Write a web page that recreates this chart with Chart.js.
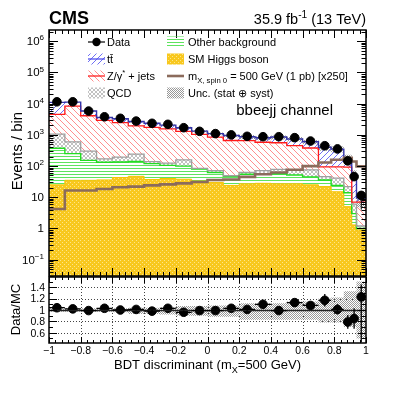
<!DOCTYPE html>
<html>
<head>
<meta charset="utf-8">
<script src="https://cdn.jsdelivr.net/npm/chart.js"></script>
<style>
html, body { margin: 0; padding: 0; background: #fff; }
#wrap { position: relative; width: 407px; height: 395px; overflow: hidden; }
canvas { position: absolute; left: 0; top: 0; }
</style>
</head>
<body>
<div id="wrap">
<canvas id="mainPad" width="407" height="395"></canvas>
<canvas id="ratioPad" width="407" height="395"></canvas>
</div>
<script>
const FONT = '"Liberation Sans", Arial, sans-serif';
Chart.defaults.font.family = FONT;

// BDT bins (variable width at the high end)
const binEdges = [-1, -0.9, -0.8, -0.7, -0.6, -0.5, -0.4, -0.3, -0.2, -0.1, 0, 0.1, 0.2, 0.3, 0.4, 0.5, 0.6, 0.7, 0.78, 0.86, 0.91, 0.94, 1];

// yields per bin, stack order bottom -> top
const higgs    = [25, 35, 35, 36, 43, 47, 37, 40, 38, 33, 30, 24, 27, 28, 27, 27, 25, 22, 15, 5, 1.3, 0.9];
const otherBkg = [350, 215, 117, 96, 92, 93, 83, 65, 62, 47, 32, 23, 28, 27, 30, 25, 20, 14, 9, 9, 1.7, 0.1];
const qcd      = [675, 350, 148, 38, 60, 100, 20, 20, 58, 5, 10, 2, 8, 17, 21, 22, 31, 10, 17, 8, 3, 0.2];
const zJets    = [3520, 7700, 3800, 2730, 2285, 1710, 1610, 1425, 1142, 955, 778, 611, 587, 508, 482, 376, 304, 49, 54, 70, 1, 5.8];
const ttbar    = [6430, 2900, 1700, 700, 820, 750, 600, 500, 400, 280, 250, 300, 230, 230, 300, 290, 220, 305, 255, 83, 48, 2.5];
const signal   = [4.2, 16.5, 16.5, 18.5, 21, 22, 24, 26, 28, 31, 36, 37, 45, 55, 62, 76, 100, 130, 160, 185, 140, 98];
const dataCounts = [11500, 11500, 5800, 3800, 3400, 2770, 2350, 2180, 1700, 1300, 1100, 1000, 900, 875, 875, 815, 635, 450, 355, 147, 46, 11.5];

// ratio panel
const ratio      = [1.04, 1.02, 0.99, 1.03, 1.0, 1.01, 0.98, 1.03, 0.96, 0.99, 0.99, 1.03, 1.01, 1.10, 0.99, 1.13, 1.08, 1.17, 1.01, 0.79, 0.85, 1.23];
const ratioErrHi = [0.01, 0.01, 0.015, 0.02, 0.02, 0.02, 0.025, 0.025, 0.03, 0.03, 0.035, 0.035, 0.04, 0.05, 0.04, 0.06, 0.07, 0.11, 0.09, 0.12, 0.18, 0.22];
const ratioErrLo = [0.01, 0.01, 0.015, 0.02, 0.02, 0.02, 0.025, 0.025, 0.03, 0.03, 0.035, 0.035, 0.04, 0.05, 0.04, 0.06, 0.07, 0.11, 0.09, 0.12, 0.18, 0.8];
const uncUp   = [0.03, 0.03, 0.03, 0.03, 0.03, 0.04, 0.04, 0.05, 0.07, 0.07, 0.08, 0.08, 0.12, 0.12, 0.12, 0.15, 0.15, 0.2, 0.22, 0.33, 0.33, 0.5];
const uncDown = [0.03, 0.03, 0.03, 0.03, 0.04, 0.07, 0.07, 0.08, 0.1, 0.1, 0.12, 0.12, 0.17, 0.17, 0.17, 0.17, 0.17, 0.22, 0.22, 0.3, 0.3, 0.5];

// axis labels
const xMajorTicks = [-1, -0.8, -0.6, -0.4, -0.2, 0, 0.2, 0.4, 0.6, 0.8, 1];
const xTickLabels = ['\u22121', '\u22120.8', '\u22120.6', '\u22120.4', '\u22120.2', '0', '0.2', '0.4', '0.6', '0.8', '1'];
const logDecades = [-1, 0, 1, 2, 3, 4, 5, 6];
const ratioTicks = [0.6, 0.8, 1, 1.2, 1.4];
const ratioTickLabels = ['0.6', '0.8', '1', '1.2', '1.4'];

function cumulate(...layers) {
    return layers[0].map((_, i) => layers.reduce((s, l) => s + l[i], 0));
}
const stackHiggs = higgs.slice();
const stackOther = cumulate(higgs, otherBkg);
const stackQcd   = cumulate(higgs, otherBkg, qcd);
const stackZ     = cumulate(higgs, otherBkg, qcd, zJets);
const stackTotal = cumulate(higgs, otherBkg, qcd, zJets, ttbar);

const binCenters = binEdges.slice(0, -1).map((e, i) => (e + binEdges[i + 1]) / 2);

function stepPoints(values) {
    const pts = values.map((v, i) => ({ x: binEdges[i], y: v }));
    pts.push({ x: binEdges[values.length], y: values[values.length - 1] });
    return pts;
}

// ---- fill patterns (ROOT-like hatches)
function makePattern(size, paint) {
    const c = document.createElement('canvas');
    c.width = size; c.height = size;
    const g = c.getContext('2d');
    paint(g, size);
    return g.createPattern(c, 'repeat');
}
function hatch(color, size, dirs) {
    return makePattern(size, (g, s) => {
        g.strokeStyle = color;
        g.lineWidth = 1;
        g.beginPath();
        if (dirs.includes('/')) {
            g.moveTo(0, s); g.lineTo(s, 0);
            g.moveTo(-1, 1); g.lineTo(1, -1);
            g.moveTo(s - 1, s + 1); g.lineTo(s + 1, s - 1);
        }
        if (dirs.includes('\\')) {
            g.moveTo(0, 0); g.lineTo(s, s);
            g.moveTo(-1, s - 1); g.lineTo(1, s + 1);
            g.moveTo(s - 1, -1); g.lineTo(s + 1, 1);
        }
        g.stroke();
    });
}
const ttPattern = hatch('#6f6ff5', 6, '/');
const zPattern = hatch('#ff8f8f', 6, '\\');
const qcdPattern = hatch('#c2c2c2', 4, '/\\');
const otherPattern = makePattern(3, (g) => { g.fillStyle = '#5ee35e'; g.fillRect(0, 0, 3, 1); });
const higgsPattern = makePattern(4, (g) => {
    g.fillStyle = '#f8c81e'; g.fillRect(0, 0, 4, 4);
    g.fillStyle = '#fde58a'; g.fillRect(0, 0, 1, 1); g.fillRect(2, 2, 1, 1);
});
const uncPattern = makePattern(2, (g) => {
    g.fillStyle = '#989898'; g.fillRect(0, 0, 1, 1); g.fillRect(1, 1, 1, 1);
});

// ---- rich text (sub/superscripts)
function partFont(p, size) {
    const s = size * (p.sup || p.sub ? 0.7 : 1);
    return (p.bold ? 'bold ' : '') + s + 'px ' + FONT;
}
function drawRich(ctx, parts, x, y, size, align) {
    let w = 0;
    parts.forEach(p => { ctx.font = partFont(p, size); w += ctx.measureText(p.text).width; });
    let cx = align === 'right' ? x - w : align === 'center' ? x - w / 2 : x;
    ctx.textAlign = 'left';
    ctx.textBaseline = 'alphabetic';
    parts.forEach(p => {
        ctx.font = partFont(p, size);
        const dy = p.sup ? -0.42 * size : p.sub ? 0.28 * size : 0;
        ctx.fillText(p.text, cx, y + dy);
        cx += ctx.measureText(p.text).width;
    });
}

function drawLegend(ctx) {
    const rows = [42, 59, 76, 93];
    const entries = [
        { bx: 88, tx: 107, row: 0, kind: 'marker', parts: [{ text: 'Data' }] },
        { bx: 88, tx: 107, row: 1, kind: 'fill', pattern: ttPattern, line: '#5050ee', parts: [{ text: 't' }, { text: 't\u0304' }] },
        { bx: 88, tx: 107, row: 2, kind: 'fill', pattern: zPattern, line: '#ff2020', parts: [{ text: 'Z/\u03b3' }, { text: '*', sup: true }, { text: ' + jets' }] },
        { bx: 88, tx: 107, row: 3, kind: 'fill', pattern: qcdPattern, parts: [{ text: 'QCD' }] },
        { bx: 167, tx: 188, row: 0, kind: 'fill', pattern: otherPattern, parts: [{ text: 'Other background' }] },
        { bx: 167, tx: 188, row: 1, kind: 'fill', pattern: higgsPattern, parts: [{ text: 'SM Higgs boson' }] },
        { bx: 167, tx: 188, row: 2, kind: 'line', line: '#8b6b5c', parts: [{ text: 'm' }, { text: 'X, spin 0', sub: true }, { text: ' = 500 GeV (1 pb) [x250]' }] },
        { bx: 167, tx: 188, row: 3, kind: 'fill', pattern: uncPattern, parts: [{ text: 'Unc. (stat \u2295 syst)' }] }
    ];
    entries.forEach(e => {
        const cy = rows[e.row];
        const w = 17;
        if (e.kind === 'marker') {
            ctx.strokeStyle = '#000'; ctx.lineWidth = 1.2;
            ctx.beginPath(); ctx.moveTo(e.bx, cy); ctx.lineTo(e.bx + w, cy); ctx.stroke();
            ctx.fillStyle = '#000';
            ctx.beginPath(); ctx.arc(e.bx + w / 2, cy, 4.2, 0, Math.PI * 2); ctx.fill();
        } else if (e.kind === 'fill') {
            ctx.fillStyle = e.pattern;
            ctx.fillRect(e.bx, cy - 5.5, w, 11);
            if (e.line) {
                ctx.strokeStyle = e.line; ctx.lineWidth = 1.3;
                ctx.beginPath(); ctx.moveTo(e.bx, cy); ctx.lineTo(e.bx + w, cy); ctx.stroke();
            }
        } else {
            ctx.strokeStyle = e.line; ctx.lineWidth = 2.6;
            ctx.beginPath(); ctx.moveTo(e.bx, cy); ctx.lineTo(e.bx + w, cy); ctx.stroke();
        }
        ctx.fillStyle = '#000';
        drawRich(ctx, e.parts, e.tx, cy + 4, 11, 'left');
    });
}

function drawXTicks(ctx, x, a, majorLen, minorLen) {
    ctx.strokeStyle = '#000'; ctx.lineWidth = 1;
    ctx.beginPath();
    for (let i = 0; i <= 50; i++) {
        const v = -1 + i * 0.04;
        const px = Math.round(x.getPixelForValue(v)) + 0.5;
        const len = i % 5 === 0 ? majorLen : minorLen;
        ctx.moveTo(px, a.bottom); ctx.lineTo(px, a.bottom - len);
        ctx.moveTo(px, a.top); ctx.lineTo(px, a.top + len);
    }
    ctx.stroke();
}

const mainDecor = {
    id: 'mainDecor',
    afterDatasetsDraw(chart) {
        const { ctx, scales: { x, y } } = chart;
        ctx.save();
        ctx.strokeStyle = '#000'; ctx.lineWidth = 1;
        ctx.beginPath();
        dataCounts.forEach((v, i) => {
            const px = x.getPixelForValue(binCenters[i]);
            ctx.moveTo(px, y.getPixelForValue(v * (1 + ratioErrHi[i] / ratio[i])));
            ctx.lineTo(px, y.getPixelForValue(v * Math.max(0.05, 1 - ratioErrLo[i] / ratio[i])));
        });
        ctx.stroke();
        ctx.restore();
    },
    afterDraw(chart) {
        const { ctx, chartArea: a, scales: { x, y } } = chart;
        ctx.save();
        drawXTicks(ctx, x, a, 8, 4);
        // log ticks, left and right
        ctx.beginPath();
        for (let n = -2; n <= 6; n++) {
            for (let k = 1; k <= 9; k++) {
                const v = k * Math.pow(10, n);
                if (v < y.min || v > y.max) continue;
                const py = Math.round(y.getPixelForValue(v)) + 0.5;
                const len = k === 1 ? 9 : 4.5;
                ctx.moveTo(a.left, py); ctx.lineTo(a.left + len, py);
                ctx.moveTo(a.right, py); ctx.lineTo(a.right - len, py);
            }
        }
        ctx.stroke();
        ctx.lineWidth = 1.5;
        ctx.strokeRect(a.left, a.top, a.right - a.left, a.bottom - a.top);

        ctx.fillStyle = '#000';
        logDecades.forEach(n => {
            const py = y.getPixelForValue(Math.pow(10, n));
            let parts;
            if (n === 0) parts = [{ text: '1' }];
            else if (n === 1) parts = [{ text: '10' }];
            else parts = [{ text: '10' }, { text: n < 0 ? '\u2212' + (-n) : String(n), sup: true }];
            drawRich(ctx, parts, a.left - 5, py + 4, 11.5, 'right');
        });

        drawRich(ctx, [{ text: 'CMS', bold: true }], a.left, 24, 18, 'left');
        drawRich(ctx, [{ text: '35.9 fb' }, { text: '-1', sup: true }, { text: ' (13 TeV)' }], a.right, 24, 14.5, 'right');
        drawRich(ctx, [{ text: 'bbeejj channel' }], 333, 114.5, 15, 'right');

        ctx.save();
        ctx.translate(21.5, 151);
        ctx.rotate(-Math.PI / 2);
        drawRich(ctx, [{ text: 'Events / bin' }], 0, 0, 15, 'center');
        ctx.restore();

        drawLegend(ctx);
        ctx.restore();
    }
};

const stackLine = (values, color, width, pattern, fill) => ({
    data: stepPoints(values), stepped: true, borderColor: color, borderWidth: width,
    backgroundColor: pattern, fill: fill, pointRadius: 0, clip: 0
});

new Chart(document.getElementById('mainPad'), {
    type: 'line',
    data: {
        datasets: [
            { data: dataCounts.map((v, i) => ({ x: binCenters[i], y: v })), showLine: false,
              pointRadius: 4.3, pointBackgroundColor: '#000', pointBorderColor: '#000', borderColor: '#000', backgroundColor: '#000' },
            stackLine(signal, '#8b6b5c', 2.6, 'rgba(0,0,0,0)', false),
            stackLine(stackTotal.map((v, i) => v * (1 + uncUp[i])), 'rgba(0,0,0,0)', 1, uncPattern, '+1'),
            stackLine(stackTotal.map((v, i) => v * (1 - uncDown[i])), 'rgba(0,0,0,0)', 1, 'rgba(0,0,0,0)', false),
            stackLine(stackTotal, '#3434a8', 1.4, ttPattern, '+1'),
            stackLine(stackZ, '#ff1a1a', 1.3, zPattern, '+1'),
            stackLine(stackQcd, '#a0a0a0', 1.3, qcdPattern, '+1'),
            stackLine(stackOther, '#22dd22', 1.4, otherPattern, '+1'),
            stackLine(stackHiggs, '#f5c400', 1, higgsPattern, 'start')
        ]
    },
    options: {
        responsive: false, animation: false, devicePixelRatio: 1, events: [],
        layout: { padding: { left: 49, right: 41, top: 30, bottom: 119 } },
        scales: {
            x: { type: 'linear', min: -1, max: 1, display: false },
            y: { type: 'logarithmic', min: 0.03, max: 2.3e6, display: false }
        },
        plugins: { legend: { display: false }, tooltip: { enabled: false }, filler: { drawTime: 'beforeDatasetsDraw' } }
    },
    plugins: [mainDecor]
});

const ratioDecor = {
    id: 'ratioDecor',
    beforeDraw(chart) {
        const { ctx, chartArea: a, scales: { x, y } } = chart;
        ctx.save();
        ctx.strokeStyle = '#444'; ctx.lineWidth = 1;
        ctx.setLineDash([1, 2]);
        ctx.beginPath();
        xMajorTicks.slice(1, -1).forEach(v => {
            const px = Math.round(x.getPixelForValue(v)) + 0.5;
            ctx.moveTo(px, a.top); ctx.lineTo(px, a.bottom);
        });
        ratioTicks.filter(v => v !== 1).forEach(v => {
            const py = Math.round(y.getPixelForValue(v)) + 0.5;
            ctx.moveTo(a.left, py); ctx.lineTo(a.right, py);
        });
        ctx.stroke();
        ctx.restore();
    },
    afterDatasetsDraw(chart) {
        const { ctx, chartArea: a, scales: { x, y } } = chart;
        ctx.save();
        ctx.beginPath(); ctx.rect(a.left, a.top, a.right - a.left, a.bottom - a.top); ctx.clip();
        ctx.strokeStyle = '#222'; ctx.lineWidth = 1.5;
        const p1 = Math.round(y.getPixelForValue(1)) + 0.5;
        ctx.beginPath(); ctx.moveTo(a.left, p1); ctx.lineTo(a.right, p1); ctx.stroke();
        ctx.strokeStyle = '#000'; ctx.lineWidth = 1.3;
        ctx.beginPath();
        ratio.forEach((r, i) => {
            const px = x.getPixelForValue(binCenters[i]);
            const py = y.getPixelForValue(r);
            ctx.moveTo(x.getPixelForValue(binEdges[i]), py); ctx.lineTo(x.getPixelForValue(binEdges[i + 1]), py);
            ctx.moveTo(px, y.getPixelForValue(r + ratioErrHi[i])); ctx.lineTo(px, y.getPixelForValue(r - ratioErrLo[i]));
        });
        ctx.stroke();
        ctx.restore();
    },
    afterDraw(chart) {
        const { ctx, chartArea: a, scales: { x, y } } = chart;
        ctx.save();
        drawXTicks(ctx, x, a, 6, 3);
        ctx.beginPath();
        for (let i = 5; i <= 15; i++) {
            const py = Math.round(y.getPixelForValue(i / 10)) + 0.5;
            const len = i % 2 === 0 ? 8 : 4;
            ctx.moveTo(a.left, py); ctx.lineTo(a.left + len, py);
            ctx.moveTo(a.right, py); ctx.lineTo(a.right - len, py);
        }
        ctx.stroke();
        ctx.lineWidth = 1.5;
        ctx.strokeRect(a.left, a.top, a.right - a.left, a.bottom - a.top);

        ctx.fillStyle = '#000';
        ratioTicks.forEach((v, i) => {
            drawRich(ctx, [{ text: ratioTickLabels[i] }], a.left - 4, y.getPixelForValue(v) + 3.8, 10.5, 'right');
        });
        xMajorTicks.forEach((v, i) => {
            drawRich(ctx, [{ text: xTickLabels[i] }], x.getPixelForValue(v), a.bottom + 10.5, 10.5, 'center');
        });
        drawRich(ctx, [{ text: 'BDT discriminant (m' }, { text: 'X', sub: true }, { text: '=500 GeV)' }], (a.left + a.right) / 2, 369, 13, 'center');

        ctx.save();
        ctx.translate(20, 309.5);
        ctx.rotate(-Math.PI / 2);
        drawRich(ctx, [{ text: 'Data/MC' }], 0, 0, 13, 'center');
        ctx.restore();
        ctx.restore();
    }
};

new Chart(document.getElementById('ratioPad'), {
    type: 'line',
    data: {
        datasets: [
            { data: ratio.map((r, i) => ({ x: binCenters[i], y: r })), showLine: false,
              pointRadius: 4.3, pointBackgroundColor: '#000', pointBorderColor: '#000', borderColor: '#000', backgroundColor: '#000' },
            stackLine(uncUp.map(u => 1 + u), 'rgba(0,0,0,0)', 1, uncPattern, '+1'),
            stackLine(uncDown.map(d => 1 - d), 'rgba(0,0,0,0)', 1, 'rgba(0,0,0,0)', false)
        ]
    },
    options: {
        responsive: false, animation: false, devicePixelRatio: 1, events: [],
        layout: { padding: { left: 49, right: 41, top: 277, bottom: 52 } },
        scales: {
            x: { type: 'linear', min: -1, max: 1, display: false },
            y: { type: 'linear', min: 0.42, max: 1.58, display: false }
        },
        plugins: { legend: { display: false }, tooltip: { enabled: false }, filler: { drawTime: 'beforeDatasetsDraw' } }
    },
    plugins: [ratioDecor]
});
</script>
</body>
</html>
